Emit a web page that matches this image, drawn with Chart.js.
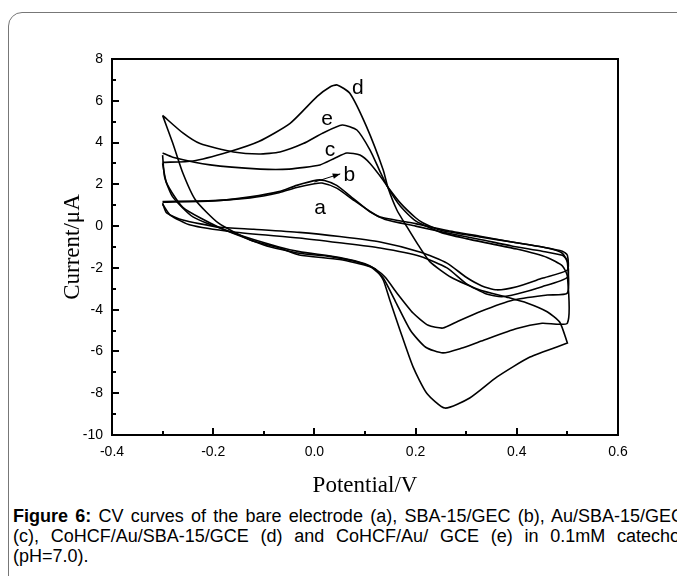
<!DOCTYPE html>
<html lang="en">
<head>
<meta charset="UTF-8">
<title>CV curves</title>
<script src="https://cdn.jsdelivr.net/npm/chart.js"></script>
<style>
  body { margin: 0; background: #fff; width: 677px; height: 576px; overflow: hidden; position: relative; font-family: "Liberation Sans", Arial, sans-serif; }
  #frame { position: absolute; left: 8px; top: 12px; width: 720px; height: 640px; border: 1px solid #777; border-radius: 14px; }
  #cv { position: absolute; left: 0; top: 0; }
  #caption { position: absolute; left: 13px; top: 506px; width: 671px; font-size: 18px; line-height: 20px; color: #000; }
  #caption div { text-align: justify; text-align-last: justify; }
  #caption div.last { text-align-last: left; }
</style>
</head>
<body>
<div id="frame"></div>
<canvas id="cv" width="677" height="500"></canvas>
<div id="caption">
  <div><b>Figure 6:</b> CV curves of the bare electrode (a), SBA-15/GEC (b), Au/SBA-15/GEC</div>
  <div>(c), CoHCF/Au/SBA-15/GCE (d) and CoHCF/Au/ GCE (e) in 0.1mM catechol</div>
  <div class="last">(pH=7.0).</div>
</div>
<script>
// each loop: forward sweep -0.3 -> 0.5 V, then back 0.5 -> -0.3 V
const aPotential = [-0.30, -0.20, -0.127, -0.07, -0.035, 0.0, 0.015, 0.044, 0.077, 0.11, 0.13, 0.20, 0.26, 0.33, 0.39, 0.45, 0.49, 0.50,
                    0.50, 0.45, 0.40, 0.36, 0.33, 0.30, 0.262, 0.21, 0.13, 0.05, -0.03, -0.12, -0.19, -0.26, -0.292, -0.30];
const aCurrent   = [1.18, 1.22, 1.35, 1.6, 1.85, 2.03, 2.06, 1.82, 1.25, 0.7, 0.44, 0.12, -0.2, -0.5, -0.76, -1.0, -1.2, -1.4,
                    -2.1, -2.5, -2.9, -3.05, -2.85, -2.45, -1.77, -1.25, -0.76, -0.5, -0.3, -0.15, -0.04, 0.29, 0.63, 1.1];

const bPotential = [-0.30, -0.20, -0.127, -0.07, -0.035, 0.005, 0.02, 0.044, 0.077, 0.11, 0.14, 0.20, 0.26, 0.33, 0.39, 0.45, 0.49, 0.50,
                    0.50, 0.45, 0.40, 0.37, 0.34, 0.30, 0.262, 0.21, 0.13, 0.05, -0.03, -0.16, -0.245, -0.285, -0.30];
const bCurrent   = [1.14, 1.2, 1.4, 1.65, 1.95, 2.2, 2.18, 1.95, 1.32, 0.68, 0.32, 0.0, -0.32, -0.65, -0.95, -1.2, -1.4, -1.65,
                    -2.45, -2.9, -3.25, -3.38, -3.25, -2.75, -2.0, -1.45, -1.05, -0.8, -0.57, -0.28, 0.05, 0.53, 1.05];

const cPotential = [-0.30, -0.28, -0.206, -0.107, -0.05, 0.011, 0.04, 0.064, 0.09, 0.11, 0.136, 0.145, 0.17, 0.20, 0.215, 0.25, 0.327, 0.40, 0.46, 0.49, 0.50,
                    0.50, 0.46, 0.393, 0.327, 0.28, 0.254, 0.225, 0.195, 0.163, 0.14, 0.12, 0.10, 0.05, -0.03, -0.07, -0.16, -0.24, -0.28, -0.296, -0.30];
const cCurrent   = [3.5, 3.3, 2.93, 2.73, 2.73, 2.93, 3.25, 3.5, 3.4, 3.0, 2.2, 1.87, 1.1, 0.4, 0.15, -0.2, -0.52, -0.8, -1.05, -1.3, -1.75,
                    -3.2, -3.3, -3.54, -4.1, -4.6, -4.88, -4.75, -4.16, -3.2, -2.45, -2.05, -1.8, -1.5, -1.22, -1.0, -0.33, 0.44, 1.4, 2.35, 3.4];

const dPotential = [-0.30, -0.24, -0.17, -0.11, -0.048, 0.005, 0.03, 0.045, 0.07, 0.103, 0.136, 0.145, 0.163, 0.183, 0.205, 0.228, 0.27, 0.327, 0.38, 0.42, 0.46, 0.485, 0.50,
                    0.50, 0.426, 0.361, 0.307, 0.258, 0.222, 0.195, 0.169, 0.149, 0.136, 0.12, 0.09, 0.03, -0.03, -0.10, -0.19, -0.26, -0.292, -0.30];
const dCurrent   = [3.05, 3.12, 3.55, 4.05, 4.92, 6.2, 6.65, 6.76, 6.36, 4.76, 2.69, 1.87, 0.77, -0.04, -0.9, -1.7, -2.45, -3.06, -3.4, -3.68, -4.1, -4.6, -5.6,
                    -5.6, -6.27, -7.22, -8.23, -8.71, -8.0, -6.74, -4.97, -3.54, -2.58, -2.05, -1.75, -1.45, -1.3, -0.9, -0.04, 0.9, 2.06, 3.0];

const ePotential = [-0.30, -0.26, -0.226, -0.16, -0.11, -0.068, -0.022, 0.017, 0.055, 0.084, 0.11, 0.13, 0.145, 0.17, 0.20, 0.25, 0.30, 0.35, 0.40, 0.46, 0.49, 0.50,
                    0.50, 0.45, 0.40, 0.33, 0.29, 0.254, 0.22, 0.19, 0.16, 0.135, 0.11, 0.05, -0.03, -0.068, -0.127, -0.19, -0.235, -0.26, -0.28, -0.30];
const eCurrent   = [5.3, 4.46, 3.95, 3.55, 3.45, 3.55, 3.95, 4.46, 4.84, 4.6, 3.64, 2.6, 1.87, 0.95, 0.25, -0.3, -0.6, -0.85, -1.1, -1.5, -1.9, -2.4,
                    -4.64, -4.65, -4.9, -5.5, -5.85, -6.07, -5.8, -5.0, -3.6, -2.45, -1.95, -1.6, -1.38, -1.05, -0.66, 0.15, 1.25, 2.54, 3.98, 5.3];

const xTickLabels = [-0.4, -0.2, 0.0, 0.2, 0.4, 0.6];
const yTickLabels = [-10, -8, -6, -4, -2, 0, 2, 4, 6, 8];

function loop(px, cur) {
    return px.map((v, i) => ({ x: v, y: cur[i] }));
}

const curves = [
    loop(aPotential, aCurrent),
    loop(bPotential, bCurrent),
    loop(cPotential, cCurrent),
    loop(dPotential, dCurrent),
    loop(ePotential, eCurrent)
];

// box, inward ticks, curve letters and the little arrow
const framePlugin = {
    id: "frame",
    afterDraw(chart) {
        const { ctx, chartArea: a } = chart;
        const x = chart.scales.x, y = chart.scales.y;
        ctx.save();
        ctx.strokeStyle = "#000";
        ctx.lineWidth = 2;
        ctx.strokeRect(a.left, a.top, a.right - a.left, a.bottom - a.top);

        ctx.beginPath();
        for (let i = 0; i <= 10; i++) {
            const v = -0.4 + i * 0.1;
            const p = Math.round(x.getPixelForValue(v));
            const len = i % 2 === 0 ? 7 : 4;
            ctx.moveTo(p, a.bottom);
            ctx.lineTo(p, a.bottom - len);
        }
        for (let v = -10; v <= 8; v++) {
            const p = Math.round(y.getPixelForValue(v));
            const len = v % 2 === 0 ? 7 : 4;
            ctx.moveTo(a.left, p);
            ctx.lineTo(a.left + len, p);
        }
        ctx.stroke();

        ctx.fillStyle = "#000";
        ctx.font = "21px 'Liberation Sans', Arial, sans-serif";
        ctx.textAlign = "center";
        ctx.textBaseline = "middle";
        const tags = [["d", 0.086, 6.61], ["e", 0.025, 5.13], ["c", 0.031, 3.64], ["b", 0.069, 2.42], ["a", 0.011, 0.87]];
        tags.forEach(t => ctx.fillText(t[0], x.getPixelForValue(t[1]), y.getPixelForValue(t[2])));

        const x0 = x.getPixelForValue(0.0), y0 = y.getPixelForValue(2.11);
        const x1 = x.getPixelForValue(0.051), y1 = y.getPixelForValue(2.5);
        ctx.lineWidth = 1;
        ctx.beginPath();
        ctx.moveTo(x0, y0);
        ctx.lineTo(x1, y1);
        ctx.stroke();
        const ang = Math.atan2(y1 - y0, x1 - x0);
        ctx.beginPath();
        ctx.moveTo(x1, y1);
        ctx.lineTo(x1 - 8 * Math.cos(ang - 0.35), y1 - 8 * Math.sin(ang - 0.35));
        ctx.lineTo(x1 - 8 * Math.cos(ang + 0.35), y1 - 8 * Math.sin(ang + 0.35));
        ctx.closePath();
        ctx.fill();
        ctx.restore();
    }
};

const tickFont = { family: "'Liberation Sans', Arial, sans-serif", size: 14 };
const titleFont = { family: "'Liberation Serif', 'Times New Roman', serif", size: 23 };

new Chart(document.getElementById("cv"), {
    type: "scatter",
    data: {
        datasets: curves.map(d => ({
            data: d,
            showLine: true,
            borderColor: "#000",
            borderWidth: 1.6,
            pointRadius: 0,
            tension: 0.2,
            fill: false
        }))
    },
    options: {
        responsive: false,
        animation: false,
        devicePixelRatio: 1,
        layout: { padding: { left: 50, top: 59, right: 59, bottom: 0 } },
        plugins: { legend: { display: false }, tooltip: { enabled: false } },
        scales: {
            x: {
                type: "linear",
                min: -0.4,
                max: 0.6,
                afterFit: s => { s.height = 65; },
                afterBuildTicks: s => { s.ticks = xTickLabels.map(v => ({ value: v })); },
                grid: { display: false, drawTicks: false },
                border: { display: false },
                ticks: {
                    color: "#000",
                    font: tickFont,
                    padding: 9,
                    callback: v => (Math.abs(v) < 1e-9 ? 0 : v).toFixed(1)
                },
                title: { display: true, text: "Potential/V", color: "#000", font: titleFont, padding: { top: 0, bottom: 0 } }
            },
            y: {
                type: "linear",
                min: -10,
                max: 8,
                afterFit: s => { s.width = 62; },
                afterBuildTicks: s => { s.ticks = yTickLabels.map(v => ({ value: v })); },
                grid: { display: false, drawTicks: false },
                border: { display: false },
                ticks: { color: "#000", font: tickFont, padding: 9 },
                title: { display: true, text: "Current/\u03bcA", color: "#000", font: titleFont, padding: { top: 9, bottom: 0 } }
            }
        }
    },
    plugins: [framePlugin]
});
</script>
</body>
</html>
